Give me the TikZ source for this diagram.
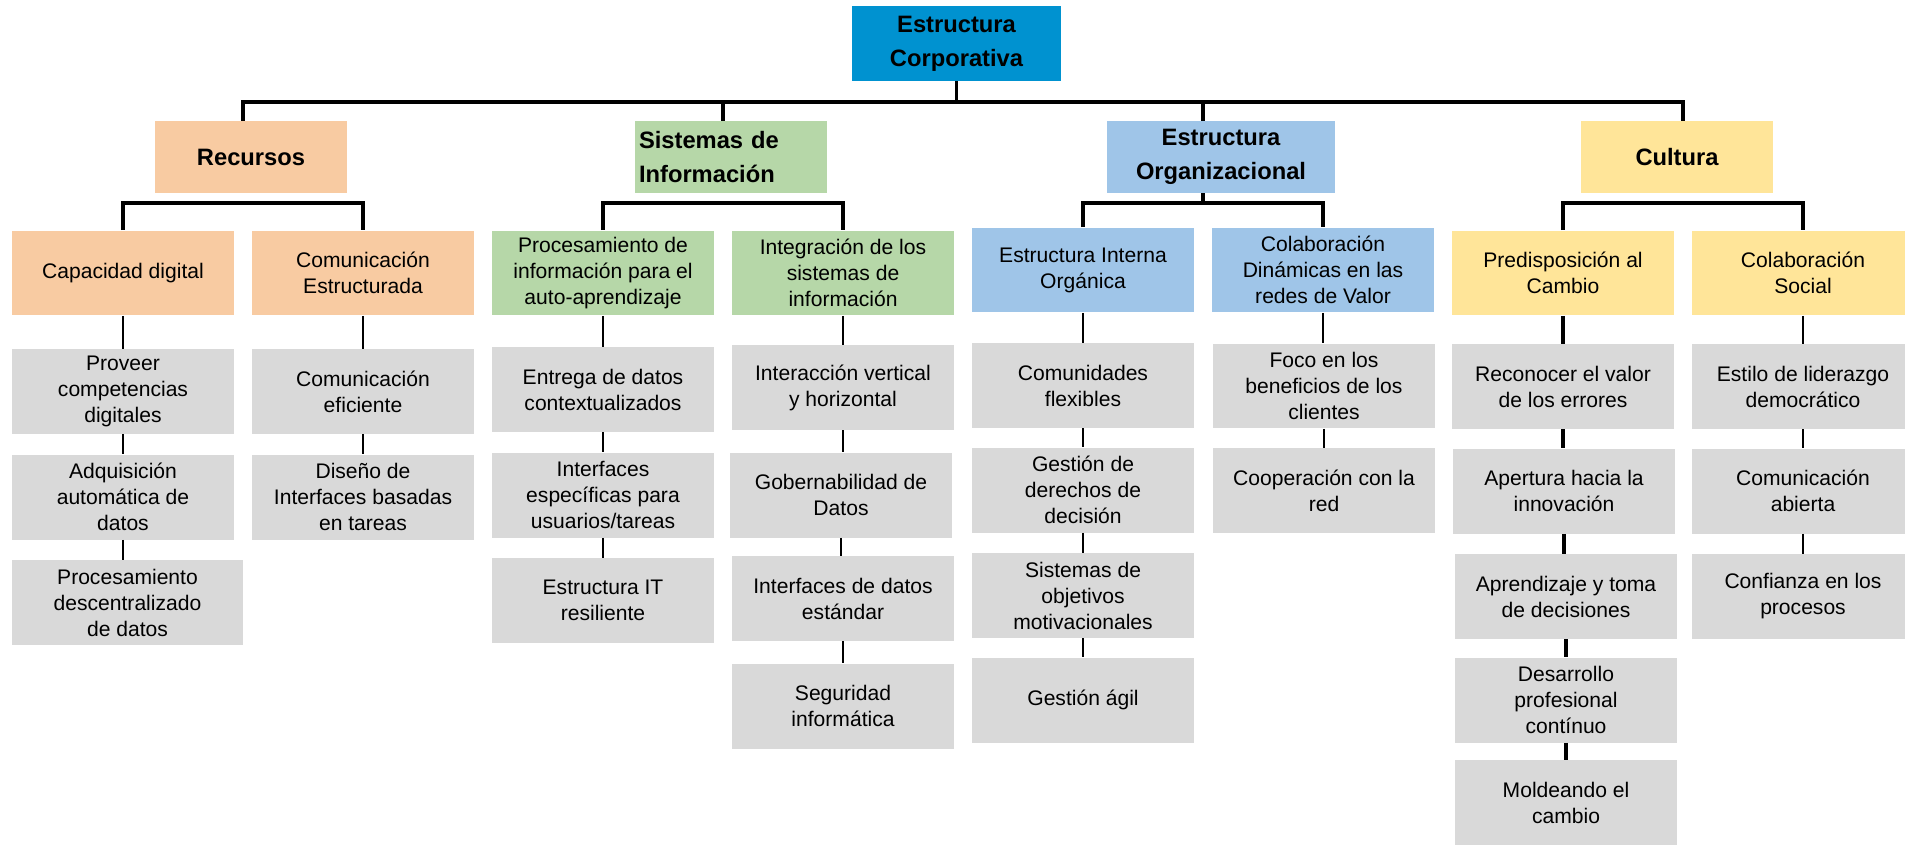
\documentclass[tikz,border=0pt]{standalone}
\usepackage{fontspec}
\setmainfont{Liberation Sans}
\usetikzlibrary{positioning, calc}

\definecolor{topblue}{RGB}{0,146,208}
\definecolor{recorange}{RGB}{248,203,162}
\definecolor{sigreen}{RGB}{182,215,168}
\definecolor{orgblue}{RGB}{159,197,232}
\definecolor{culyellow}{RGB}{255,229,153}
\definecolor{leafgray}{RGB}{217,217,217}

\tikzset{
	box/.style={minimum width=4.44cm, minimum height=1.7cm, align=center, inner sep=0.05cm, font=\fontsize{12}{14.8}\selectfont},
	head/.style={minimum width=3.84cm, minimum height=1.44cm, align=center, inner sep=0.05cm, font=\bfseries\fontsize{13.5}{19.4}\selectfont},
	leaf/.style={box, fill=leafgray},
	heavy/.style={line width=2pt},
	link/.style={line width=0.8pt}
}

\begin{document}
\begin{tikzpicture}[x=0.02cm, y=-0.02cm]
			\useasboundingbox (0,0) rectangle (1905,845);
			\node (top) [head, fill=topblue, minimum width=4.18cm, minimum height=1.5cm] at (956.5,43.5) {Estructura\\Corporativa};

			\node (rec) [head, fill=recorange] at (251,157) {Recursos};
			\node (sis) [head, fill=sigreen, text width=3.68cm, align=left, inner xsep=0.08cm] at (731,157) {Sistemas de\\Información};
			\node (org) [head, fill=orgblue, minimum width=4.56cm] at (1221,157) {Estructura\\Organizacional};
			\node (cul) [head, fill=culyellow] at (1677,157) {Cultura};

			\node (capd) [box, fill=recorange] at (123,273) {Capacidad digital};
			\node (comest) [box, fill=recorange] at (363,273) {Comunicación\\Estructurada};
			\node (proc) [box, fill=sigreen] at (603,273) {Procesamiento de\\información para el\\auto-aprendizaje};
			\node (integ) [box, fill=sigreen] at (843,273) {Integración de los\\sistemas de\\información};
			\node (estint) [box, fill=orgblue] at (1083,270) {Estructura Interna\\Orgánica};
			\node (colab) [box, fill=orgblue] at (1323,270) {Colaboración\\Dinámicas en las\\redes de Valor};
			\node (predis) [box, fill=culyellow] at (1563,273) {Predisposición al\\Cambio};
			\node (colsoc) [box, fill=culyellow] at (1803,273) {Colaboración\\Social};

			\node (prov) [leaf] at (123,391.5) {Proveer\\competencias\\digitales};
			\node (adq) [leaf] at (123,497) {Adquisición\\automática de\\datos};
			\node (procd) [leaf, minimum width=4.62cm] at (127.5,602.5) {Procesamiento\\descentralizado\\de datos};

			\node (comef) [leaf] at (363,391.5) {Comunicación\\eficiente};
			\node (dise) [leaf] at (363,497) {Diseño de\\Interfaces basadas\\en tareas};

			\node (entr) [leaf] at (603,389.5) {Entrega de datos\\contextualizados};
			\node (intesp) [leaf] at (603,495) {Interfaces\\específicas para\\usuarios/tareas};
			\node (estit) [leaf] at (603,600.5) {Estructura IT\\resiliente};

			\node (inter) [leaf] at (843,387.5) {Interacción vertical\\y horizontal};
			\node (gob) [leaf] at (841,495) {Gobernabilidad de\\Datos};
			\node (intdat) [leaf] at (843,598.5) {Interfaces de datos\\estándar};
			\node (seg) [leaf] at (843,706) {Seguridad\\informática};

			\node (comu) [leaf] at (1083,385.5) {Comunidades\\flexibles};
			\node (gesder) [leaf] at (1083,490) {Gestión de\\derechos de\\decisión};
			\node (sisobj) [leaf] at (1083,595.5) {Sistemas de\\objetivos\\motivacionales};
			\node (gesag) [leaf] at (1083,700) {Gestión ágil};

			\node (foco) [leaf] at (1324,386) {Foco en los\\beneficios de los\\clientes};
			\node (coop) [leaf] at (1324,490.5) {Cooperación con la\\red};

			\node (recon) [leaf] at (1563,386.5) {Reconocer el valor\\de los errores};
			\node (apert) [leaf] at (1564,491) {Apertura hacia la\\innovación};
			\node (aprend) [leaf] at (1566,596.5) {Aprendizaje y toma\\de decisiones};
			\node (desar) [leaf] at (1566,700) {Desarrollo\\profesional\\contínuo};
			\node (mold) [leaf] at (1566,802.5) {Moldeando el\\cambio};

			\node (estilo) [leaf] at (1803,386.5) {Estilo de liderazgo\\democrático};
			\node (comab) [leaf] at (1803,491) {Comunicación\\abierta};
			\node (conf) [leaf] at (1803,596.5) {Confianza en los\\procesos};

			\coordinate (bar) at (0,102);
			\coordinate (sub) at (0,203);
			\coordinate (recm) at ($(capd.north)!0.5!(comest.north)$);
			\coordinate (sism) at ($(proc.north)!0.5!(integ.north)$);
			\coordinate (orgm) at ($(estint.north)!0.5!(colab.north)$);
			\coordinate (culm) at ($(predis.north)!0.5!(colsoc.north)$);

			\draw [heavy] (top.south) -- (top.south |- bar);
			\draw [heavy] (rec.north -| recm) -- (recm |- bar) -- (culm |- bar) -- (cul.north -| culm);
			\draw [heavy] (sism |- bar) -- (sis.north -| sism);
			\draw [heavy] (orgm |- bar) -- (org.north -| orgm);

			\foreach \p/\a/\b in {rec/capd/comest, sis/proc/integ, cul/predis/colsoc} {
				\draw [heavy] ($(\a.north)!0.5!(\b.north)$ |- \p.south) -- ($(\a.north)!0.5!(\b.north)$ |- sub);
				\draw [heavy] (\a.north) -- (\a.north |- sub) -- (\b.north |- sub) -- (\b.north);
			}
			\draw [line width=2.8pt] (orgm |- org.south) -- (orgm |- sub);
			\draw [line width=2.8pt] (estint.north) -- (estint.north |- sub) -- (colab.north |- sub) -- (colab.north);

			\foreach \a/\b in {capd/prov, prov/adq, adq/procd, comest/comef, comef/dise, proc/entr, entr/intesp, intesp/estit, integ/inter, inter/gob, gob/intdat, intdat/seg, estint/comu, comu/gesder, gesder/sisobj, sisobj/gesag, colab/foco, foco/coop, colsoc/estilo, estilo/comab, comab/conf}
				\draw [link] (\a.south) -- (\a.south |- \b.north);
			\foreach \a/\b in {predis/recon, recon/apert, apert/aprend, aprend/desar, desar/mold}
				\draw [heavy] (\a.south) -- (\a.south |- \b.north);
\end{tikzpicture}
\end{document}
